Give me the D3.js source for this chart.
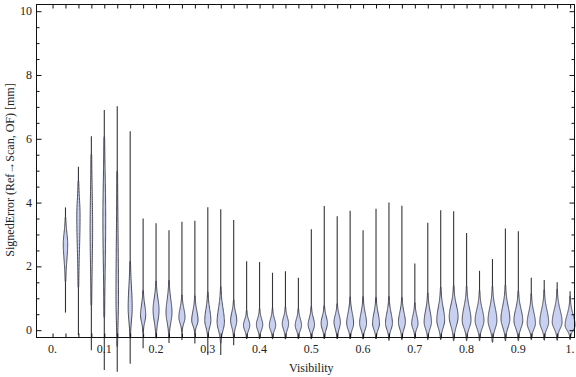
<!DOCTYPE html>
<html>
<head>
<meta charset="utf-8">
<script src="https://cdn.jsdelivr.net/npm/d3@7"></script>
<style>
body { margin: 0; background: #fff; }
text { font-family: "Liberation Serif", "Times New Roman", serif; fill: #222; }
</style>
</head>
<body>
<script>
// visibility bins (category centers)
var visibility = [0.025, 0.05, 0.075, 0.1, 0.125, 0.15, 0.175, 0.2, 0.225, 0.25,
                  0.275, 0.3, 0.325, 0.35, 0.375, 0.4, 0.425, 0.45, 0.475, 0.5,
                  0.525, 0.55, 0.575, 0.6, 0.625, 0.65, 0.675, 0.7, 0.725, 0.75,
                  0.775, 0.8, 0.825, 0.85, 0.875, 0.9, 0.925, 0.95, 0.975, 1.0];
// signed error distribution per bin [mm]
var errMin  = [0.55, -0.15, -0.63, -1.25, -1.3, -1.05, -0.57, -0.25, -0.4, -0.31,
               -0.42, -0.78, -0.78, -0.47, -0.28, -0.28, -0.28, -0.28, -0.28, -0.28,
               -0.28, -0.28, -0.28, -0.28, -0.28, -0.33, -0.28, -0.28, -0.28, -0.28,
               -0.28, -0.28, -0.28, -0.33, -0.28, -0.28, -0.28, -0.28, -0.28, -0.28];
var errMax  = [3.85, 5.12, 6.08, 6.9, 7.02, 6.24, 3.5, 3.35, 3.13, 3.4,
               3.43, 3.85, 3.79, 3.45, 2.16, 2.14, 1.8, 1.85, 1.64, 3.16,
               3.89, 3.57, 3.74, 3.13, 3.81, 4.0, 3.9, 2.09, 3.37, 3.76,
               3.73, 3.05, 1.86, 2.23, 3.19, 3.1, 1.64, 1.57, 1.5, 1.22];
var errLow  = [1.7, 1.5, 0.8, 0.5, -0.5, -0.1, 0.05, -0.05, -0.05, 0.05,
               0.0, -0.1, -0.25, -0.1, -0.15, -0.15, -0.15, -0.15, -0.15, -0.15,
               -0.15, -0.15, -0.15, -0.15, -0.15, -0.15, -0.15, -0.1, -0.15, -0.15,
               -0.15, -0.15, -0.15, -0.2, -0.15, -0.15, -0.15, -0.15, -0.15, -0.15];
var errMode = [2.7, 3.6, 3.2, 3.5, 1.0, 0.7, 0.47, 0.63, 0.55, 0.4,
               0.3, 0.3, 0.25, 0.3, 0.15, 0.17, 0.15, 0.2, 0.15, 0.17,
               0.21, 0.25, 0.21, 0.21, 0.2, 0.21, 0.25, 0.2, 0.25, 0.31,
               0.42, 0.31, 0.3, 0.3, 0.35, 0.3, 0.21, 0.25, 0.25, 0.15];
var errHigh = [3.4, 4.6, 5.5, 6.0, 5.0, 2.0, 1.1, 1.35, 1.35, 0.95,
               0.9, 1.0, 1.1, 0.8, 0.5, 0.55, 0.55, 0.6, 0.55, 0.6,
               0.65, 0.7, 0.85, 0.85, 0.85, 0.85, 0.85, 0.7, 0.95, 1.1,
               1.15, 1.1, 1.0, 1.1, 1.15, 1.0, 0.9, 1.0, 1.0, 0.8];
var density = [0.42, 0.3, 0.22, 0.25, 0.22, 0.38, 0.5, 0.58, 0.58, 0.6,
               0.62, 0.6, 0.72, 0.6, 0.62, 0.62, 0.62, 0.62, 0.62, 0.62,
               0.62, 0.62, 0.68, 0.68, 0.68, 0.68, 0.68, 0.62, 0.72, 0.78,
               0.88, 0.88, 0.88, 0.88, 0.88, 0.88, 0.82, 0.88, 0.98, 1.0];
var xTicks = [0, 0.1, 0.2, 0.3, 0.4, 0.5, 0.6, 0.7, 0.8, 0.9, 1.0];
var xTickLabels = ["0.", "0.1", "0.2", "0.3", "0.4", "0.5", "0.6", "0.7", "0.8", "0.9", "1."];
var yTicks = [0, 2, 4, 6, 8, 10];

var width = 576;
var height = 377;
var frame = { left: 36.5, right: 574.5, top: 4.5, bottom: 337.5 };

var svg = d3.select("body").append("svg")
    .attr("width", width)
    .attr("height", height);

var xScale = d3.scaleLinear()
    .domain([-0.031, 1.0085])
    .range([frame.left, frame.right]);
var yScale = d3.scaleLinear()
    .domain([-0.23, 10.21])
    .range([frame.bottom, frame.top]);
var wScale = d3.scaleLinear()
    .domain([0, 1])
    .range([0, 4.8]);

// violin outlines from the per-bin distribution parameters
var violins = visibility.map(function(v, i) {
    var n = 120, pts = [];
    var sLo = (errMode[i] - errLow[i]) / 2, sHi = (errHigh[i] - errMode[i]) / 2;
    for (var j = 0; j <= n; j++) {
        var y = errMin[i] + (errMax[i] - errMin[i]) * j / n;
        var s = y < errMode[i] ? sLo : sHi;
        var d = density[i] * Math.exp(-0.5 * Math.pow((y - errMode[i]) / s, 2));
        if (d > 0.03) pts.push({ y: y, d: d });
    }
    return { x: v, lo: errMin[i], hi: errMax[i], pts: pts };
});

var area = d3.area()
    .y(function(p) { return yScale(p.y); })
    .curve(d3.curveBasis);

var vg = svg.append("g");

// thin tails (full range)
vg.selectAll("line.tail")
    .data(violins)
    .enter()
    .append("line")
    .attr("class", "tail")
    .attr("x1", function(v) { return xScale(v.x); })
    .attr("x2", function(v) { return xScale(v.x); })
    .attr("y1", function(v) { return yScale(v.lo); })
    .attr("y2", function(v) { return yScale(v.hi); })
    .attr("stroke", "#34343c")
    .attr("stroke-width", 1.1);

vg.selectAll("path")
    .data(violins)
    .enter()
    .append("path")
    .attr("d", function(v) {
        var p = v.pts.slice();
        p.unshift({ y: p[0].y - 0.05, d: 0 });
        p.push({ y: p[p.length - 1].y + 0.05, d: 0 });
        return area
            .x0(function(q) { return xScale(v.x) - wScale(q.d) - 0.2; })
            .x1(function(q) { return xScale(v.x) + wScale(q.d) + 0.2; })(p);
    })
    .attr("fill", "#c9d1f3")
    .attr("stroke", "#3a3a44")
    .attr("stroke-width", 0.9);

// frame
var topTicks = visibility.slice();
topTicks.unshift(0);

svg.append("rect")
    .attr("x", frame.left).attr("y", frame.top)
    .attr("width", frame.right - frame.left)
    .attr("height", frame.bottom - frame.top)
    .attr("fill", "none")
    .attr("stroke", "#111")
    .attr("stroke-width", 1);

var xAxisB = d3.axisBottom(xScale).tickValues(topTicks).tickSize(-4).tickFormat("");
var xAxisT = d3.axisTop(xScale).tickValues(topTicks).tickSize(-4).tickFormat("");
var minorY = d3.range(0, 10.01, 0.5).filter(function(d) { return d % 2 !== 0; });

function styleAxis(g) {
    g.select(".domain").remove();
    g.selectAll("line").attr("stroke", "#111");
}
svg.append("g").attr("transform", "translate(0," + frame.bottom + ")").call(xAxisB).call(styleAxis);
svg.append("g").attr("transform", "translate(0," + frame.top + ")").call(xAxisT).call(styleAxis);

svg.append("g").attr("transform", "translate(" + frame.left + ",0)")
    .call(d3.axisLeft(yScale).tickValues(minorY).tickSize(-3).tickFormat("")).call(styleAxis);
svg.append("g").attr("transform", "translate(" + frame.left + ",0)")
    .call(d3.axisLeft(yScale).tickValues(yTicks).tickSize(-5).tickFormat("")).call(styleAxis);
svg.append("g").attr("transform", "translate(" + frame.right + ",0)")
    .call(d3.axisRight(yScale).tickValues(minorY).tickSize(-3).tickFormat("")).call(styleAxis);
svg.append("g").attr("transform", "translate(" + frame.right + ",0)")
    .call(d3.axisRight(yScale).tickValues(yTicks).tickSize(-5).tickFormat("")).call(styleAxis);

// tick labels
svg.append("g").selectAll("text")
    .data(xTicks)
    .enter()
    .append("text")
    .attr("x", function(d) { return xScale(d); })
    .attr("y", 353)
    .attr("text-anchor", "middle")
    .style("font-size", "12px")
    .text(function(d, i) { return xTickLabels[i]; });

svg.append("g").selectAll("text")
    .data(yTicks)
    .enter()
    .append("text")
    .attr("x", frame.left - 4.5)
    .attr("y", function(d) { return yScale(d) + 4; })
    .attr("text-anchor", "end")
    .style("font-size", "12px")
    .text(function(d) { return d; });

svg.append("text")
    .attr("x", xScale(0.5))
    .attr("y", 372)
    .attr("text-anchor", "middle")
    .style("font-size", "12px")
    .text("Visibility");

svg.append("text")
    .attr("transform", "translate(14,170) rotate(-90)")
    .attr("text-anchor", "middle")
    .style("font-size", "12px")
    .text("SignedError (Ref\u2192Scan, OF) [mm]");
</script>
</body>
</html>
